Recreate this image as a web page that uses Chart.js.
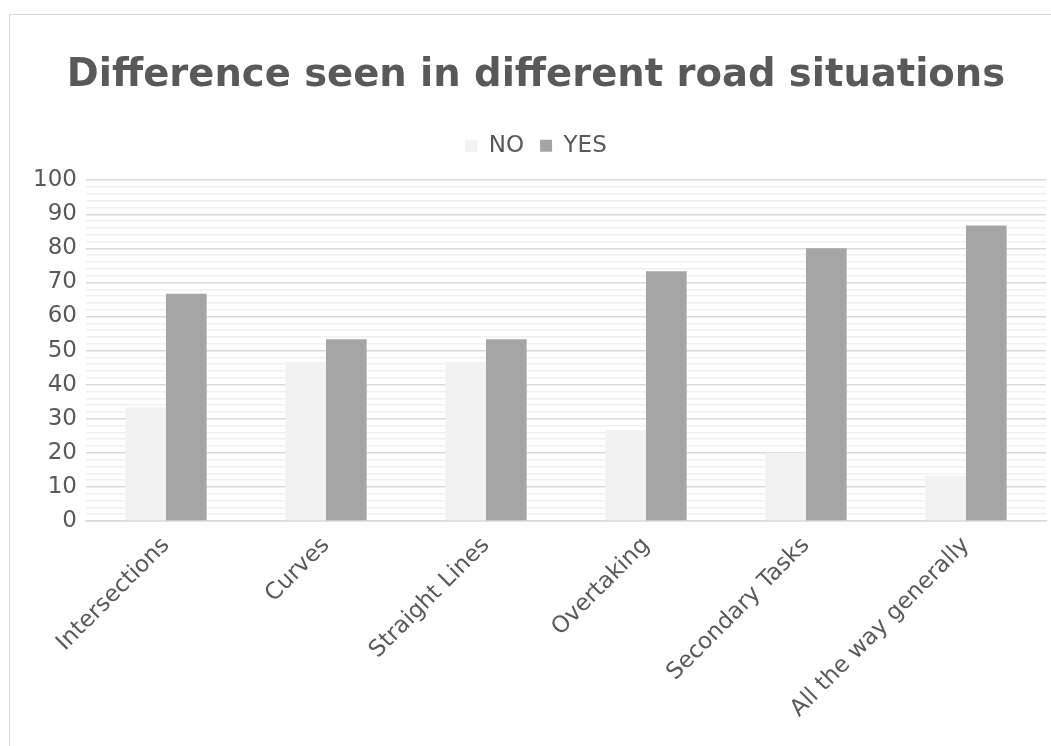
<!DOCTYPE html>
<html>
<head>
<meta charset="utf-8">
<script src="https://cdn.jsdelivr.net/npm/chart.js@4"></script>
<style>
  html, body { margin: 0; padding: 0; background: #fff; overflow: hidden; }
  #frame { position: absolute; left: 9px; top: 14px; width: 1100px; height: 800px; border: 1.5px solid #d9d9d9; box-sizing: border-box; }
  #wrap { position: absolute; left: 0; top: 0; width: 1051px; height: 746px; }
</style>
</head>
<body>
<div id="frame"></div>
<div id="wrap"><canvas id="chart"></canvas></div>
<script>
const categories = ["Intersections", "Curves", "Straight Lines", "Overtaking", "Secondary Tasks", "All the way generally"];
const noValues = [33.3, 46.7, 46.7, 26.7, 20, 13.3];
const yesValues = [66.7, 53.3, 53.3, 73.3, 80, 86.7];

const textColor = "#595959";
Chart.defaults.font.family = "'DejaVu Sans', sans-serif";

// a bit of extra room between the legend and the plot
const legendGap = {
  id: "legendGap",
  beforeInit(chart) {
    const orig = chart.legend.fit;
    chart.legend.fit = function () {
      orig.call(this);
      this.height += 13;
    };
  },
};

const ctx = document.getElementById("chart");
const myChart = new Chart(ctx, {
  type: "bar",
  data: {
    labels: categories,
    datasets: [
      { label: "NO", data: noValues, backgroundColor: "#f2f2f2" },
      { label: "YES", data: yesValues, backgroundColor: "#a5a5a5" },
    ],
  },
  plugins: [legendGap],
  options: {
    responsive: true,
    maintainAspectRatio: false,
    animation: false,
    devicePixelRatio: 1,
    layout: { padding: { left: 21, right: 0, top: 0, bottom: 0 } },
    datasets: { bar: { categoryPercentage: 0.508, barPercentage: 1 } },
    plugins: {
      title: {
        display: true,
        text: "Difference seen in different road situations",
        color: textColor,
        font: { size: 38.5, weight: "bold" },
        padding: { top: 53, bottom: 19 },
      },
      legend: {
        labels: {
          color: textColor,
          font: { size: 23 },
          boxWidth: 12,
          boxHeight: 12,
          padding: 16,
        },
      },
      tooltip: { enabled: false },
    },
    scales: {
      x: {
        grid: { display: false },
        border: { color: "#d9d9d9", width: 1.5 },
        ticks: {
          color: textColor,
          font: { size: 23 },
          maxRotation: 45,
          minRotation: 45,
          autoSkip: false,
        },
        afterFit: (scale) => { scale.height = 225; },
      },
      y: {
        min: 0,
        max: 100,
        border: { display: false },
        grid: {
          color: (c) => (c.tick && c.tick.value % 10 === 0 ? "#d9d9d9" : "#f0f0f0"),
          lineWidth: 1.5,
          drawTicks: false,
        },
        ticks: {
          stepSize: 2,
          autoSkip: false,
          color: textColor,
          font: { size: 23 },
          padding: 9,
          callback: (v) => (v % 10 === 0 ? v : ""),
        },
        afterFit: (scale) => { scale.width = 65; },
      },
      yRight: {
        position: "right",
        min: 0,
        max: 100,
        grid: { display: false },
        border: { display: false },
        ticks: { display: false },
        afterFit: (scale) => { scale.width = 5; },
      },
    },
  },
});
</script>
</body>
</html>
